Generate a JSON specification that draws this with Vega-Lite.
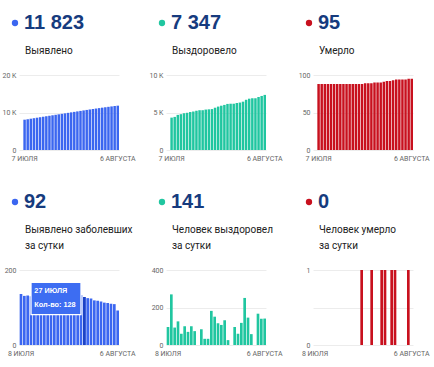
{
  "$schema": "https://vega.github.io/schema/vega-lite/v6.json",
  "padding": {"left": 2, "top": 7, "right": 5, "bottom": 5},
  "datasets": {
    "top": [
      {"d": "7 ИЮЛЯ", "cases": 8082, "rec": 4317, "dead": 88},
      {"d": "8 ИЮЛЯ", "cases": 8218, "rec": 4413, "dead": 88},
      {"d": "9 ИЮЛЯ", "cases": 8349, "rec": 4683, "dead": 88},
      {"d": "10 ИЮЛЯ", "cases": 8481, "rec": 4776, "dead": 88},
      {"d": "11 ИЮЛЯ", "cases": 8611, "rec": 4902, "dead": 88},
      {"d": "12 ИЮЛЯ", "cases": 8742, "rec": 4962, "dead": 88},
      {"d": "13 ИЮЛЯ", "cases": 8871, "rec": 5062, "dead": 88},
      {"d": "14 ИЮЛЯ", "cases": 9001, "rec": 5132, "dead": 88},
      {"d": "15 ИЮЛЯ", "cases": 9129, "rec": 5232, "dead": 88},
      {"d": "16 ИЮЛЯ", "cases": 9260, "rec": 5306, "dead": 88},
      {"d": "17 ИЮЛЯ", "cases": 9389, "rec": 5306, "dead": 88},
      {"d": "18 ИЮЛЯ", "cases": 9519, "rec": 5390, "dead": 88},
      {"d": "19 ИЮЛЯ", "cases": 9647, "rec": 5423, "dead": 88},
      {"d": "20 ИЮЛЯ", "cases": 9776, "rec": 5456, "dead": 88},
      {"d": "21 ИЮЛЯ", "cases": 9907, "rec": 5638, "dead": 88},
      {"d": "22 ИЮЛЯ", "cases": 10037, "rec": 5789, "dead": 89},
      {"d": "23 ИЮЛЯ", "cases": 10166, "rec": 5905, "dead": 89},
      {"d": "24 ИЮЛЯ", "cases": 10296, "rec": 6012, "dead": 89},
      {"d": "25 ИЮЛЯ", "cases": 10424, "rec": 6144, "dead": 90},
      {"d": "26 ИЮЛЯ", "cases": 10557, "rec": 6170, "dead": 90},
      {"d": "27 ИЮЛЯ", "cases": 10685, "rec": 6170, "dead": 90},
      {"d": "28 ИЮЛЯ", "cases": 10810, "rec": 6266, "dead": 91},
      {"d": "29 ИЮЛЯ", "cases": 10934, "rec": 6326, "dead": 92},
      {"d": "30 ИЮЛЯ", "cases": 11053, "rec": 6444, "dead": 92},
      {"d": "31 ИЮЛЯ", "cases": 11171, "rec": 6695, "dead": 93},
      {"d": "1 АВГУСТА", "cases": 11287, "rec": 6841, "dead": 94},
      {"d": "2 АВГУСТА", "cases": 11400, "rec": 6899, "dead": 94},
      {"d": "3 АВГУСТА", "cases": 11512, "rec": 6899, "dead": 94},
      {"d": "4 АВГУСТА", "cases": 11622, "rec": 7066, "dead": 94},
      {"d": "5 АВГУСТА", "cases": 11731, "rec": 7206, "dead": 95},
      {"d": "6 АВГУСТА", "cases": 11823, "rec": 7347, "dead": 95}
    ],
    "bottom": [
      {"d": "8 ИЮЛЯ", "cases": 136, "rec": 96, "dead": 0},
      {"d": "9 ИЮЛЯ", "cases": 131, "rec": 270, "dead": 0},
      {"d": "10 ИЮЛЯ", "cases": 132, "rec": 93, "dead": 0},
      {"d": "11 ИЮЛЯ", "cases": 130, "rec": 126, "dead": 0},
      {"d": "12 ИЮЛЯ", "cases": 131, "rec": 60, "dead": 0},
      {"d": "13 ИЮЛЯ", "cases": 129, "rec": 100, "dead": 0},
      {"d": "14 ИЮЛЯ", "cases": 130, "rec": 70, "dead": 0},
      {"d": "15 ИЮЛЯ", "cases": 128, "rec": 100, "dead": 0},
      {"d": "16 ИЮЛЯ", "cases": 131, "rec": 74, "dead": 0},
      {"d": "17 ИЮЛЯ", "cases": 129, "rec": 0, "dead": 0},
      {"d": "18 ИЮЛЯ", "cases": 130, "rec": 84, "dead": 0},
      {"d": "19 ИЮЛЯ", "cases": 128, "rec": 33, "dead": 0},
      {"d": "20 ИЮЛЯ", "cases": 129, "rec": 33, "dead": 0},
      {"d": "21 ИЮЛЯ", "cases": 131, "rec": 182, "dead": 0},
      {"d": "22 ИЮЛЯ", "cases": 130, "rec": 151, "dead": 1},
      {"d": "23 ИЮЛЯ", "cases": 129, "rec": 116, "dead": 0},
      {"d": "24 ИЮЛЯ", "cases": 130, "rec": 107, "dead": 0},
      {"d": "25 ИЮЛЯ", "cases": 128, "rec": 132, "dead": 1},
      {"d": "26 ИЮЛЯ", "cases": 133, "rec": 26, "dead": 0},
      {"d": "27 ИЮЛЯ", "cases": 128, "rec": 0, "dead": 0},
      {"d": "28 ИЮЛЯ", "cases": 125, "rec": 96, "dead": 1},
      {"d": "29 ИЮЛЯ", "cases": 124, "rec": 60, "dead": 1},
      {"d": "30 ИЮЛЯ", "cases": 119, "rec": 118, "dead": 0},
      {"d": "31 ИЮЛЯ", "cases": 118, "rec": 251, "dead": 1},
      {"d": "1 АВГУСТА", "cases": 116, "rec": 146, "dead": 1},
      {"d": "2 АВГУСТА", "cases": 113, "rec": 58, "dead": 0},
      {"d": "3 АВГУСТА", "cases": 112, "rec": 0, "dead": 0},
      {"d": "4 АВГУСТА", "cases": 110, "rec": 167, "dead": 0},
      {"d": "5 АВГУСТА", "cases": 109, "rec": 140, "dead": 1},
      {"d": "6 АВГУСТА", "cases": 92, "rec": 141, "dead": 0}
    ]
  },
  "columns": 3,
  "bounds": "flush",
  "spacing": {"row": 120, "column": 47},
  "resolve": {
    "scale": {"x": "independent", "y": "independent", "color": "independent"},
    "legend": {"color": "independent"}
  },
  "concat": [
    {
      "data": {"name": "top"},
      "width": 100, "height": 75,
      "mark": {"type": "bar"},
      "encoding": {
        "x": {"field": "d", "type": "ordinal", "sort": null,
              "scale": {"paddingInner": 0.2, "paddingOuter": 0.7, "align": 1},
              "axis": {"values": ["7 ИЮЛЯ", "6 АВГУСТА"], "title": null, "labelAngle": 0}},
        "y": {"field": "cases", "type": "quantitative", "scale": {"domain": [0, 20000]},
              "axis": {"values": [0, 10000, 20000], "title": null, "labelExpr": "datum.value >= 1000 ? (datum.value / 1000) + ' K' : datum.label"}},
        "color": {"datum": "11 823", "type": "nominal", "scale": {"range": ["#3b66f0"]},
                  "legend": {"title": ["Выявлено"]}}
      }
    },
    {
      "data": {"name": "top"},
      "width": 100, "height": 75,
      "mark": {"type": "bar"},
      "encoding": {
        "x": {"field": "d", "type": "ordinal", "sort": null,
              "scale": {"paddingInner": 0.2, "paddingOuter": 0.7, "align": 1},
              "axis": {"values": ["7 ИЮЛЯ", "6 АВГУСТА"], "title": null, "labelAngle": 0}},
        "y": {"field": "rec", "type": "quantitative", "scale": {"domain": [0, 10000]},
              "axis": {"values": [0, 5000, 10000], "title": null, "labelExpr": "datum.value >= 1000 ? (datum.value / 1000) + ' K' : datum.label"}},
        "color": {"datum": "7 347", "type": "nominal", "scale": {"range": ["#20c6a0"]},
                  "legend": {"title": ["Выздоровело"]}}
      }
    },
    {
      "data": {"name": "top"},
      "width": 100, "height": 75,
      "mark": {"type": "bar"},
      "encoding": {
        "x": {"field": "d", "type": "ordinal", "sort": null,
              "scale": {"paddingInner": 0.2, "paddingOuter": 0.7, "align": 1},
              "axis": {"values": ["7 ИЮЛЯ", "6 АВГУСТА"], "title": null, "labelAngle": 0}},
        "y": {"field": "dead", "type": "quantitative", "scale": {"domain": [0, 100]},
              "axis": {"values": [0, 50, 100], "title": null}},
        "color": {"datum": "95", "type": "nominal", "scale": {"range": ["#c8101e"]},
                  "legend": {"title": ["Умерло"]}}
      }
    },
    {
      "data": {"name": "bottom"},
      "width": 100, "height": 75,
      "layer": [
        {
          "mark": {"type": "bar"},
          "encoding": {
            "x": {"field": "d", "type": "ordinal", "sort": null,
                  "scale": {"paddingInner": 0.2, "paddingOuter": 0.1, "align": 1,
                            "domain": ["8 ИЮЛЯ","9 ИЮЛЯ","10 ИЮЛЯ","11 ИЮЛЯ","12 ИЮЛЯ","13 ИЮЛЯ","14 ИЮЛЯ","15 ИЮЛЯ","16 ИЮЛЯ","17 ИЮЛЯ","18 ИЮЛЯ","19 ИЮЛЯ","20 ИЮЛЯ","21 ИЮЛЯ","22 ИЮЛЯ","23 ИЮЛЯ","24 ИЮЛЯ","25 ИЮЛЯ","26 ИЮЛЯ","27 ИЮЛЯ","28 ИЮЛЯ","29 ИЮЛЯ","30 ИЮЛЯ","31 ИЮЛЯ","1 АВГУСТА","2 АВГУСТА","3 АВГУСТА","4 АВГУСТА","5 АВГУСТА","6 АВГУСТА"]},
                  "axis": {"values": ["8 ИЮЛЯ", "6 АВГУСТА"], "title": null, "labelAngle": 0}},
            "y": {"field": "cases", "type": "quantitative", "scale": {"domain": [0, 200]},
                  "axis": {"values": [0, 100, 200], "title": null}},
            "color": {"datum": "92", "type": "nominal", "scale": {"range": ["#3b66f0"]},
                      "legend": {"title": ["Выявлено заболевших", "за сутки"]}}
          }
        },
        {
          "transform": [{"filter": "datum.d === '27 ИЮЛЯ'"}],
          "mark": {"type": "bar", "color": "#1c43c6"},
          "encoding": {
            "x": {"field": "d", "type": "ordinal", "sort": null},
            "y": {"field": "cases", "type": "quantitative"}
          }
        },
        {
          "data": {"values": [{}]},
          "mark": {"type": "rect", "fill": "#3d6df2", "stroke": "#ffffff", "strokeWidth": 1.3},
          "encoding": {
            "x": {"datum": "11 ИЮЛЯ", "type": "ordinal"},
            "x2": {"datum": "26 ИЮЛЯ"},
            "y": {"datum": 167, "type": "quantitative"},
            "y2": {"datum": 81}
          }
        },
        {
          "data": {"values": [{}]},
          "mark": {"type": "text", "align": "left", "baseline": "middle", "color": "#ffffff", "fontWeight": "bold", "fontSize": 7.3, "font": "Liberation Sans"},
          "encoding": {
            "x": {"datum": "12 ИЮЛЯ", "type": "ordinal"},
            "y": {"datum": 143, "type": "quantitative"},
            "text": {"value": "27 ИЮЛЯ"}
          }
        },
        {
          "data": {"values": [{}]},
          "mark": {"type": "text", "align": "left", "baseline": "middle", "color": "#ffffff", "fontWeight": "bold", "fontSize": 7.3, "font": "Liberation Sans"},
          "encoding": {
            "x": {"datum": "12 ИЮЛЯ", "type": "ordinal"},
            "y": {"datum": 108, "type": "quantitative"},
            "text": {"value": "Кол-во: 128"}
          }
        }
      ]
    },
    {
      "data": {"name": "bottom"},
      "width": 100, "height": 75,
      "mark": {"type": "bar"},
      "encoding": {
        "x": {"field": "d", "type": "ordinal", "sort": null,
              "scale": {"paddingInner": 0.2, "paddingOuter": 0.1, "align": 1},
              "axis": {"values": ["8 ИЮЛЯ", "6 АВГУСТА"], "title": null, "labelAngle": 0}},
        "y": {"field": "rec", "type": "quantitative", "scale": {"domain": [0, 400]},
              "axis": {"values": [0, 200, 400], "title": null}},
        "color": {"datum": "141", "type": "nominal", "scale": {"range": ["#20c6a0"]},
                  "legend": {"title": ["Человек выздоровел", "за сутки"]}}
      }
    },
    {
      "data": {"name": "bottom"},
      "width": 100, "height": 75,
      "mark": {"type": "bar"},
      "encoding": {
        "x": {"field": "d", "type": "ordinal", "sort": null,
              "scale": {"paddingInner": 0.2, "paddingOuter": 0.1, "align": 1},
              "axis": {"values": ["8 ИЮЛЯ", "6 АВГУСТА"], "title": null, "labelAngle": 0}},
        "y": {"field": "dead", "type": "quantitative", "scale": {"domain": [0, 1]},
              "axis": {"values": [0, 0.5, 1], "title": null, "labelExpr": "datum.value == 0.5 ? '' : (datum.value + '')"}},
        "color": {"datum": "0", "type": "nominal", "scale": {"range": ["#c8101e"]},
                  "legend": {"title": ["Человек умерло", "за сутки"]}}
      }
    }
  ],
  "config": {
    "font": "Roboto",
    "view": {"stroke": null},
    "axis": {"domain": false, "ticks": false, "gridColor": "#ececec", "gridWidth": 1,
             "labelFont": "Roboto", "labelFontSize": 7, "labelColor": "#666666"},
    "axisX": {"grid": false, "labelPadding": 4},
    "axisY": {"labelPadding": 3},
    "legend": {
      "orient": "top", "titleOrient": "bottom", "titleAnchor": "start",
      "titleFont": "Roboto", "titleFontSize": 10, "titleFontWeight": "normal", "titleColor": "#212121",
      "titlePadding": 13, "titleLineHeight": 16, "titleLimit": 300,
      "labelFont": "Liberation Sans", "labelFontSize": 20, "labelFontWeight": "bold", "labelColor": "#163b7e", "labelLimit": 300,
      "symbolType": "circle", "symbolSize": 40, "symbolStrokeWidth": 0, "symbolOpacity": 1,
      "symbolOffset": -20, "labelOffset": -1, "offset": 13, "padding": 6
    }
  }
}
